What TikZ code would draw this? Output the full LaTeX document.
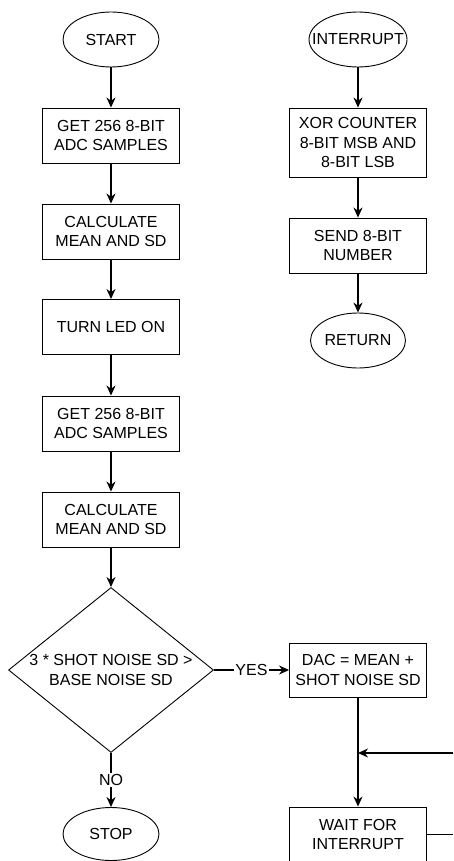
\documentclass[tikz,border=0pt]{standalone}
\usepackage{fontspec}
\setmainfont{Liberation Sans}
\usetikzlibrary{shapes.geometric,arrows.meta}

\tikzset{
    box/.style={draw, line width=0.9pt, rectangle, minimum width=137pt, minimum height=55pt, align=center, inner sep=0pt},
    term/.style={draw, line width=0.9pt, ellipse, minimum width=96pt, minimum height=55pt, inner sep=0pt},
    decision/.style={draw, line width=0.9pt, diamond, minimum width=205pt, minimum height=165pt, inner sep=0pt},
    arr/.style={-{Stealth[length=10pt,width=9pt]}, line width=1.2pt},
    lbl/.style={fill=white, inner sep=1pt}
}

\begin{document}
\begin{tikzpicture}[x=1pt, y=-1pt, font=\fontsize{16}{19.5}\selectfont]
    \useasboundingbox (0,0) rectangle (453,861);
    \clip (0,0) rectangle (453,861);

    % main flow
    \node[term] (start) at (111,39.5) {START};
    \node[box] (get1) at (111,135.5) {GET 256 8-BIT\\ADC SAMPLES};
    \node[box] (calc1) at (111,231.5) {CALCULATE\\MEAN AND SD};
    \node[box] (led) at (111,327) {TURN LED ON};
    \node[box] (get2) at (111,423.5) {GET 256 8-BIT\\ADC SAMPLES};
    \node[box] (calc2) at (111,519.5) {CALCULATE\\MEAN AND SD};
    \node[decision] (test) at (111,670) {};
    \node[align=center, inner sep=0pt] (testtxt) at (test) {3 * SHOT NOISE SD >\\BASE NOISE SD};
    \node[term, minimum height=53pt] (stop) at (111,834) {STOP};
    \node[box, minimum height=54pt] (dac) at (358,670) {DAC = MEAN +\\SHOT NOISE SD};
    \node[box] (wait) at (358,834.5) {WAIT FOR\\INTERRUPT};

    % interrupt routine
    \node[term, minimum width=98pt] (intr) at (358,39.5) {};
    \node[inner sep=0pt] (intrtxt) at (intr) {INTERRUPT};
    \node[box, minimum height=69pt] (xor) at (358,142.5) {XOR COUNTER\\8-BIT MSB AND\\8-BIT LSB};
    \node[box] (send) at (358,245.5) {SEND 8-BIT\\NUMBER};
    \node[term, minimum width=95pt] (ret) at (358,340.5) {RETURN};

    \coordinate (loopin) at (453,753);
    \coordinate (loopout) at (453,834.5);

    \draw[arr] (start) -- (get1);
    \draw[arr] (get1) -- (calc1);
    \draw[arr] (calc1) -- (led);
    \draw[arr] (led) -- (get2);
    \draw[arr] (get2) -- (calc2);
    \draw[arr] (calc2) -- (test);
    \draw[arr] (test.east) -- node[lbl] {YES} (dac.west);
    \draw[arr] (test.south) -- node[lbl] {NO} (stop.north);
    \draw[arr] (dac) -- (wait);
    \draw[arr] (loopin) -- (loopin -| dac.south); % comes back from the loop
    \draw[line width=1.2pt] (wait.east) -- (loopout);

    \draw[arr] (intr) -- (xor);
    \draw[arr] (xor) -- (send);
    \draw[arr] (send) -- (ret);

\end{tikzpicture}
\end{document}
